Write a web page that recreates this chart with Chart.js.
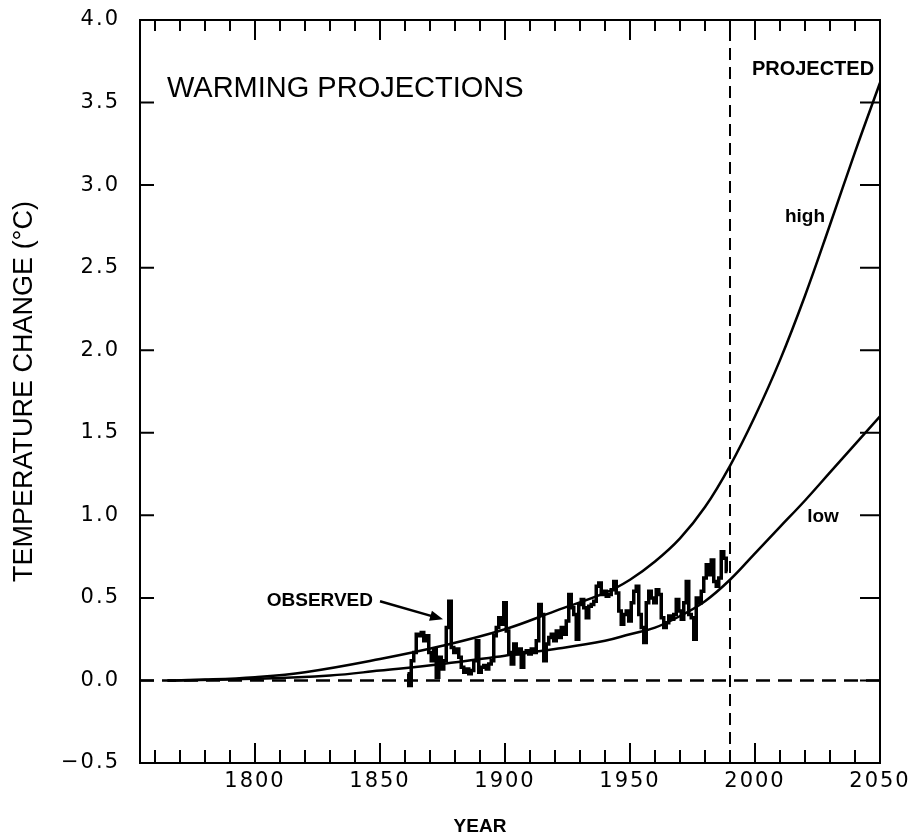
<!DOCTYPE html>
<html>
<head>
<meta charset="utf-8">
<title>Warming projections</title>
<script src="https://cdn.jsdelivr.net/npm/chart.js@4.4.1/dist/chart.umd.min.js"></script>
<style>
  html, body { margin: 0; padding: 0; background: #fff; }
  #wrap { width: 916px; height: 839px; }
</style>
</head>
<body>
<div id="wrap"><canvas id="warming" width="916" height="839"></canvas></div>
<script>
// observed annual temperature change, 1861-1989
var obsFirstYear = 1861;
var observed = [
  0.04, -0.03, 0.12, 0.17, 0.28, 0.27, 0.29, 0.24, 0.27,
  0.17, 0.12, 0.19, 0.02, 0.14, 0.07, 0.12, 0.32, 0.48, 0.20,
  0.17, 0.19, 0.14, 0.08, 0.05, 0.07, 0.04, 0.06, 0.12, 0.24,
  0.05, 0.08, 0.09, 0.07, 0.10, 0.12, 0.27, 0.32, 0.38, 0.34,
  0.47, 0.30, 0.17, 0.10, 0.22, 0.16, 0.19, 0.08, 0.17, 0.18,
  0.16, 0.19, 0.17, 0.24, 0.46, 0.40, 0.12, 0.22, 0.26, 0.28,
  0.24, 0.30, 0.26, 0.32, 0.28, 0.36, 0.52, 0.44, 0.40, 0.25,
  0.46, 0.49, 0.44, 0.38, 0.45, 0.46, 0.48, 0.57, 0.59, 0.52,
  0.54, 0.51, 0.52, 0.55, 0.60, 0.53, 0.42, 0.34, 0.40, 0.42,
  0.36, 0.47, 0.54, 0.57, 0.40, 0.32, 0.23, 0.47, 0.54, 0.50,
  0.47, 0.55, 0.52, 0.38, 0.32, 0.35, 0.39, 0.37, 0.40, 0.49,
  0.42, 0.37, 0.47, 0.60, 0.40, 0.38, 0.25, 0.50, 0.47, 0.54,
  0.62, 0.70, 0.64, 0.73, 0.60, 0.57, 0.62, 0.78, 0.74, 0.66
];

// projected curves
var highYears  = [1765, 1780, 1800, 1820, 1850, 1875, 1900, 1920, 1940, 1950, 1960, 1970, 1980, 1990, 2000, 2010, 2020, 2030, 2040, 2050];
var highValues = [0, 0.005, 0.02, 0.05, 0.13, 0.21, 0.31, 0.42, 0.53, 0.61, 0.72, 0.86, 1.05, 1.30, 1.60, 1.94, 2.33, 2.76, 3.20, 3.62];
var lowYears   = [1765, 1800, 1830, 1850, 1875, 1900, 1920, 1940, 1950, 1960, 1970, 1980, 1990, 2000, 2010, 2020, 2030, 2040, 2050];
var lowValues  = [0, 0.01, 0.03, 0.06, 0.10, 0.15, 0.19, 0.24, 0.28, 0.32, 0.39, 0.48, 0.61, 0.77, 0.93, 1.09, 1.26, 1.43, 1.60];

// reference lines
var zeroLineYears = [1754, 2050];
var presentYear = 1990;

// axes
var xMin = 1754, xMax = 2050;
var yMin = -0.5, yMax = 4.0;
var xLabelYears = [1800, 1850, 1900, 1950, 2000, 2050];
var xTickYears = [1760, 1770, 1780, 1790, 1800, 1810, 1820, 1830, 1840, 1850, 1860, 1870, 1880, 1890, 1900,
                  1910, 1920, 1930, 1940, 1950, 1960, 1970, 1980, 1990, 2000, 2010, 2020, 2030, 2040];
var yTickValues = [-0.5, 0.0, 0.5, 1.0, 1.5, 2.0, 2.5, 3.0, 3.5, 4.0];

var obsPoints = observed.map(function (v, i) { return { x: obsFirstYear + i, y: v }; });
var highPoints = highYears.map(function (yr, i) { return { x: yr, y: highValues[i] }; });
var lowPoints = lowYears.map(function (yr, i) { return { x: yr, y: lowValues[i] }; });

var frame = {
  id: 'frame',
  beforeDraw: function (chart) {
    var ctx = chart.ctx;
    ctx.save();
    ctx.fillStyle = '#fff';
    ctx.fillRect(0, 0, chart.width, chart.height);
    ctx.restore();
    ctx.letterSpacing = '2px';   // wide tick numerals
  },
  beforeDatasetsDraw: function (chart) {
    chart.ctx.letterSpacing = '0px';
  },
  afterDraw: function (chart) {
    var ctx = chart.ctx, a = chart.chartArea;
    var xs = chart.scales.x, ys = chart.scales.y;
    ctx.save();
    ctx.letterSpacing = '0px';
    ctx.strokeStyle = '#000';
    ctx.lineWidth = 2;
    ctx.strokeRect(a.left, a.top, a.right - a.left, a.bottom - a.top);

    // inward ticks
    ctx.beginPath();
    xTickYears.forEach(function (yr) {
      var x = xs.getPixelForValue(yr);
      var major = xLabelYears.indexOf(yr) >= 0;
      ctx.moveTo(x, a.bottom); ctx.lineTo(x, a.bottom - (major ? 20 : 13));
      ctx.moveTo(x, a.top); ctx.lineTo(x, a.top + (major ? 20 : 11));
    });
    yTickValues.forEach(function (v) {
      if (v === yMin || v === yMax) return;
      var y = ys.getPixelForValue(v);
      ctx.moveTo(a.left, y); ctx.lineTo(a.left + 14, y);
      ctx.moveTo(a.right, y); ctx.lineTo(a.right - 20, y);
    });
    ctx.stroke();

    // labels
    ctx.fillStyle = '#000';
    ctx.textBaseline = 'middle';
    ctx.textAlign = 'left';
    ctx.font = '29px "Liberation Sans", Arial, sans-serif';
    ctx.fillText('WARMING PROJECTIONS', xs.getPixelForValue(1764.8), ys.getPixelForValue(3.58));

    ctx.textAlign = 'center';
    ctx.font = 'bold 20px "Liberation Sans", Arial, sans-serif';
    ctx.fillText('PROJECTED', xs.getPixelForValue(2023.2), ys.getPixelForValue(3.70));
    ctx.font = 'bold 19px "Liberation Sans", Arial, sans-serif';
    ctx.fillText('high', xs.getPixelForValue(2020), ys.getPixelForValue(2.81));
    ctx.fillText('low', xs.getPixelForValue(2027.2), ys.getPixelForValue(0.99));

    ctx.textAlign = 'right';
    ctx.fillText('OBSERVED', xs.getPixelForValue(1847.2), ys.getPixelForValue(0.48));

    // arrow to the observed record
    var x0 = xs.getPixelForValue(1850), y0 = ys.getPixelForValue(0.48);
    var x1 = xs.getPixelForValue(1875.2), y1 = ys.getPixelForValue(0.37);
    var ang = Math.atan2(y1 - y0, x1 - x0);
    ctx.lineWidth = 2.5;
    ctx.beginPath();
    ctx.moveTo(x0, y0); ctx.lineTo(x1 - 8 * Math.cos(ang), y1 - 8 * Math.sin(ang));
    ctx.stroke();
    ctx.beginPath();
    ctx.moveTo(x1, y1);
    ctx.lineTo(x1 - 14 * Math.cos(ang - 0.38), y1 - 14 * Math.sin(ang - 0.38));
    ctx.lineTo(x1 - 14 * Math.cos(ang + 0.38), y1 - 14 * Math.sin(ang + 0.38));
    ctx.closePath();
    ctx.fill();

    // axis titles
    ctx.textAlign = 'center';
    ctx.font = 'bold 19px "Liberation Sans", Arial, sans-serif';
    ctx.fillText('YEAR', 480, 827);
    ctx.translate(25, (a.top + a.bottom) / 2);
    ctx.rotate(-Math.PI / 2);
    ctx.font = '27px "Liberation Sans", Arial, sans-serif';
    ctx.fillText('TEMPERATURE CHANGE (°C)', 0, 0);
    ctx.restore();
  }
};

var chart = new Chart(document.getElementById('warming'), {
  type: 'line',
  data: {
    datasets: [
      {
        label: 'observed',
        data: obsPoints,
        borderColor: '#000',
        borderWidth: 3.5,
        stepped: 'middle',
        pointRadius: 0
      },
      {
        label: 'high',
        data: highPoints,
        borderColor: '#000',
        borderWidth: 2.5,
        tension: 0.4,
        pointRadius: 0
      },
      {
        label: 'low',
        data: lowPoints,
        borderColor: '#000',
        borderWidth: 2.5,
        tension: 0.4,
        pointRadius: 0
      },
      {
        label: 'zero',
        data: zeroLineYears.map(function (yr) { return { x: yr, y: 0 }; }),
        borderColor: '#000',
        borderWidth: 2.5,
        borderDash: [14, 8],
        pointRadius: 0
      },
      {
        label: 'present',
        data: [{ x: presentYear, y: yMin }, { x: presentYear, y: yMax }],
        borderColor: '#000',
        borderWidth: 2,
        borderDash: [12, 7],
        pointRadius: 0
      }
    ]
  },
  options: {
    responsive: false,
    animation: false,
    layout: { padding: { top: 20, right: 36, left: 0, bottom: 0 } },
    plugins: {
      legend: { display: false },
      tooltip: { enabled: false }
    },
    scales: {
      x: {
        type: 'linear',
        min: xMin,
        max: xMax,
        grid: { display: false, drawTicks: false },
        border: { display: false },
        afterBuildTicks: function (s) { s.ticks = xLabelYears.map(function (v) { return { value: v }; }); },
        afterFit: function (s) { s.height = 76; s.paddingLeft = 0; s.paddingRight = 0; },
        ticks: {
          padding: 6,
          maxRotation: 0,
          autoSkip: false,
          color: '#000',
          font: { family: '"DejaVu Sans", sans-serif', size: 21 },
          callback: function (v) { return String(v); }
        }
      },
      y: {
        type: 'linear',
        min: yMin,
        max: yMax,
        grid: { display: false, drawTicks: false },
        border: { display: false },
        afterBuildTicks: function (s) { s.ticks = yTickValues.map(function (v) { return { value: v }; }); },
        afterFit: function (s) { s.width = 140; s.paddingTop = 0; s.paddingBottom = 0; },
        ticks: {
          padding: 20,
          autoSkip: false,
          color: '#000',
          font: { family: '"DejaVu Sans", sans-serif', size: 21 },
          callback: function (v) { return v.toFixed(1).replace('-', '\u2212'); }
        }
      }
    }
  },
  plugins: [frame]
});
</script>
</body>
</html>
